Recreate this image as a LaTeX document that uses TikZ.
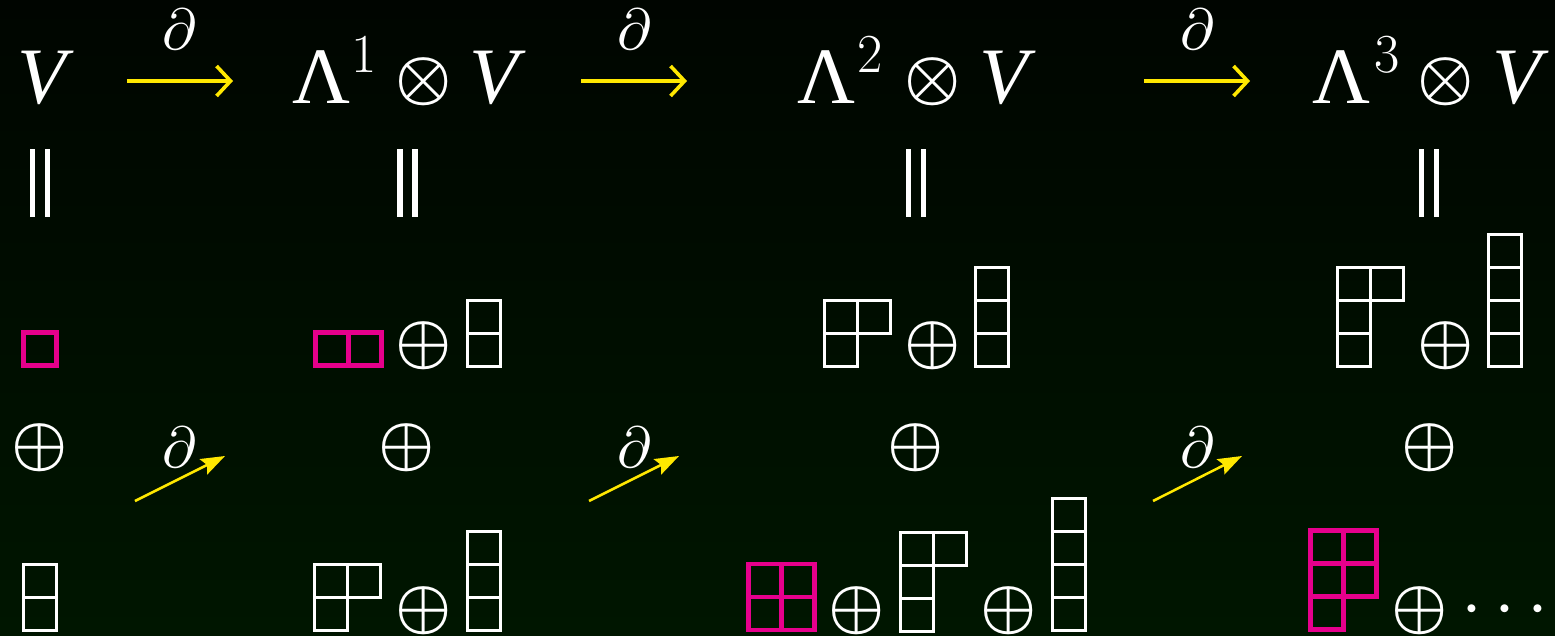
\documentclass[tikz,border=0pt]{standalone}
\usepackage{graphicx}
\usepackage{fontspec}
\newfontfamily\tms{Liberation Serif}
\usetikzlibrary{arrows.meta}
\definecolor{yel}{RGB}{255,232,0}
\definecolor{mag}{RGB}{230,0,140}
\definecolor{bgtop}{RGB}{0,5,0}
\definecolor{bgbot}{RGB}{0,22,0}
\newcommand\bigop[1]{\scalebox{6.3}{\boldmath$#1$}}
\newcommand\bigd{\scalebox{5.8}{$\partial$}}
\tikzset{
  txt/.style={text=white, inner sep=0pt, anchor=base},
  bigit/.style={txt, font=\fontsize{80}{80}\selectfont\tms\itshape},
  bigup/.style={txt, font=\fontsize{80}{80}\selectfont\tms},
  supnum/.style={txt, font=\fontsize{55}{55}\selectfont},
  opsym/.style={txt},
  dlabel/.style={txt},
  eqline/.style={white, line width=5.5pt},
  harrow/.style={yel, line width=3.6pt, -{Straight Barb[length=14pt,width=30pt,line width=3.6pt]}},
  darrow/.style={yel, line width=2.5pt, -{Stealth[length=24pt,width=17pt,inset=4pt]}},
  wcell/.style={white, line width=3pt},
  mcell/.style={mag, line width=4.8pt},
}
\newcommand\ydraw[4]{%
  \foreach \len [count=\r from 0] in {#4}{%
    \foreach \c in {1,...,\len}{%
      \draw[#3] ({#1+(\c-1)*33},{#2+\r*33}) rectangle ++(33,33);
    }}}
\begin{document}
\begin{tikzpicture}[x=1pt,y=-1pt]
\useasboundingbox (0,0) rectangle (1555,635);
\shade[top color=bgtop, bottom color=bgbot] (0,0) rectangle (1555,635);

% top row
\node[bigit] (V0) at (42,103) {V};
\node[bigup] (L1) at (321,103) {Λ};
\node[supnum] (s1) at (364.5,72) {1};
\node[opsym] (t1) at (424,97.5) {\bigop{\otimes}};
\node[bigit] (V1) at (494,103) {V};
\node[bigup] (L2) at (826,103) {Λ};
\node[supnum] (s2) at (870,72) {2};
\node[opsym] (t2) at (932.5,97.5) {\bigop{\otimes}};
\node[bigit] (V2) at (1004,103) {V};
\node[bigup] (L3) at (1341,103) {Λ};
\node[supnum] (s3) at (1387,72) {3};
\node[opsym] (t3) at (1446,97.5) {\bigop{\otimes}};
\node[bigit] (V3) at (1517,103) {V};

% horizontal arrows
\coordinate (h1s) at (127,81); \coordinate (h1e) at (233,81);
\coordinate (h2s) at (581,81); \coordinate (h2e) at (687,81);
\coordinate (h3s) at (1144,81); \coordinate (h3e) at (1250,81);
\draw[harrow] (h1s) -- (h1e);
\draw[harrow] (h2s) -- (h2e);
\draw[harrow] (h3s) -- (h3e);
\node[dlabel] (d1) at (180,49.5) {\bigd};
\node[dlabel] (d2) at (634,49.5) {\bigd};
\node[dlabel] (d3) at (1197.5,49.5) {\bigd};

% equals (vertical)
\draw[eqline] (32.5,149) -- (32.5,217) (47.5,149) -- (47.5,217);
\draw[eqline] (400,149) -- (400,217) (415,149) -- (415,217);
\draw[eqline] (908.5,149) -- (908.5,217) (923.5,149) -- (923.5,217);
\draw[eqline] (1421.5,149) -- (1421.5,217) (1436.5,149) -- (1436.5,217);

% Young diagrams, upper row
\ydraw{23.5}{332.5}{mcell}{1}
\ydraw{315.5}{332.5}{mcell}{2}
\ydraw{467.5}{300.5}{wcell}{1,1}
\ydraw{824.5}{300.5}{wcell}{2,1}
\ydraw{975.5}{267.5}{wcell}{1,1,1}
\ydraw{1337.5}{267.5}{wcell}{2,1,1}
\ydraw{1488.5}{234.5}{wcell}{1,1,1,1}

% Young diagrams, lower row
\ydraw{23.5}{564.5}{wcell}{1,1}
\ydraw{314.5}{564.5}{wcell}{2,1}
\ydraw{467.5}{531.5}{wcell}{1,1,1}
\ydraw{748.5}{564}{mcell}{2,2}
\ydraw{900.5}{532}{wcell}{2,1,1}
\ydraw{1052.5}{498.5}{wcell}{1,1,1,1}
\ydraw{1310.5}{530.5}{mcell}{2,2,1}

% direct sums
\node[opsym] (p1) at (423.5,361.5) {\bigop{\oplus}};
\node[opsym] (p2) at (932.5,361.5) {\bigop{\oplus}};
\node[opsym] (p3) at (1445.5,361.5) {\bigop{\oplus}};
\node[opsym] (m0) at (40,463) {\bigop{\oplus}};
\node[opsym] (m1) at (407,463) {\bigop{\oplus}};
\node[opsym] (m2) at (915.5,463) {\bigop{\oplus}};
\node[opsym] (m3) at (1429.5,463) {\bigop{\oplus}};
\node[opsym] (q1) at (423.5,626) {\bigop{\oplus}};
\node[opsym] (q2) at (856.5,626) {\bigop{\oplus}};
\node[opsym] (q3) at (1008.5,626) {\bigop{\oplus}};
\node[opsym] (q4) at (1419.5,626) {\bigop{\oplus}};
\node[opsym] (dots) at (1505,627.5) {\scalebox{7.5}{$\cdots$}};

% diagonal arrows
\coordinate (g1s) at (135,501); \coordinate (g1e) at (225,456);
\coordinate (g2s) at (589,501); \coordinate (g2e) at (679,456);
\coordinate (g3s) at (1153,501); \coordinate (g3e) at (1242,456);
\draw[darrow] (g1s) -- (g1e);
\draw[darrow] (g2s) -- (g2e);
\draw[darrow] (g3s) -- (g3e);
\node[dlabel] (e1) at (180,467) {\bigd};
\node[dlabel] (e2) at (634,467) {\bigd};
\node[dlabel] (e3) at (1197.5,467) {\bigd};
\end{tikzpicture}
\end{document}
